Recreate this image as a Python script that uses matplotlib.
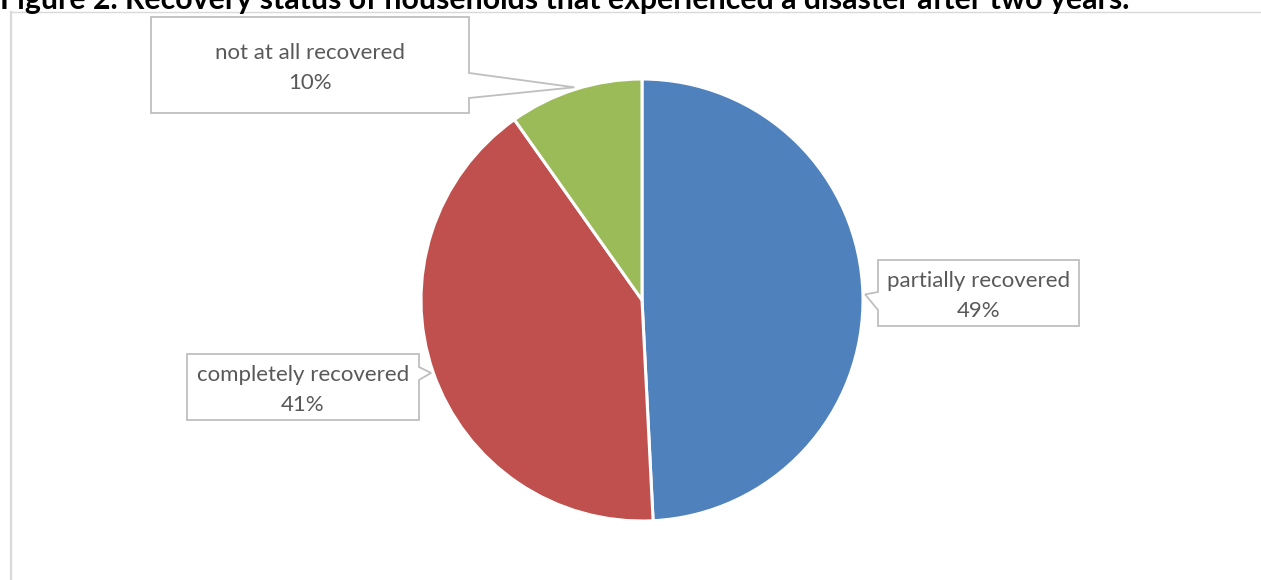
import matplotlib
matplotlib.use("Agg")
import matplotlib.pyplot as plt
from matplotlib.patches import Polygon
from matplotlib.lines import Line2D
import numpy as np

categories = ["partially recovered", "completely recovered", "not at all recovered"]
shares = [49.2, 41.0, 9.8]
shown_pct = [49, 41, 10]
colors = ["#4F81BD", "#C0504D", "#9BBB59"]
title = "Figure 2. Recovery status of households that experienced a disaster after two years."

W, H = 1261, 580
fig = plt.figure(figsize=(W / 100, H / 100), dpi=100)
fig.patch.set_facecolor("white")

CX, CY, R = 642, 300, 221
ax = fig.add_axes([0, 0, 1, 1])
wedges, _ = ax.pie(shares, colors=colors, startangle=90, counterclock=False,
                   radius=1, wedgeprops=dict(edgecolor="white", linewidth=2.2))
ax.set_aspect("auto")
ax.set_xlim(-CX / R, (W - CX) / R)
ax.set_ylim(-(H - CY) / R, CY / R)
ax.axis("off")


def P(px, py):
    return ((px - CX) / R, (CY - py) / R)


# chart-area frame
fig.add_artist(Line2D([10.5 / W, 10.5 / W], [0, 1 - 12 / H], transform=fig.transFigure,
                      color="#D9D9D9", lw=1.6))
fig.add_artist(Line2D([10.5 / W, 1.0], [1 - 12 / H, 1 - 12 / H], transform=fig.transFigure,
                      color="#D9D9D9", lw=1.0))

# callout boxes (pixel layout: x0, y0, x1, y1, pointer side, base0, base1)
boxes = {
    "partially recovered": (878, 260, 1079, 326, "left", 292, 310),
    "completely recovered": (187, 354, 419, 420, "right", 367, 380),
    "not at all recovered": (151, 17, 469, 113, "right", 73, 98),
}

for w, cat, pct in zip(wedges, categories, shown_pct):
    mid = np.deg2rad((w.theta1 + w.theta2) / 2)
    tip = (1.01 * np.cos(mid), 1.01 * np.sin(mid))
    x0, y0, x1, y1, side, b0, b1 = boxes[cat]
    if side == "right":
        verts = [P(x0, y0), P(x1, y0), P(x1, b0), tip, P(x1, b1), P(x1, y1), P(x0, y1)]
    else:
        verts = [P(x0, y0), P(x1, y0), P(x1, y1), P(x0, y1), P(x0, b1), tip, P(x0, b0)]
    ax.add_patch(Polygon(verts, closed=True, facecolor="white", edgecolor="#BFBFBF",
                         lw=1.3, zorder=3, joinstyle="miter"))
    cx, cy = P((x0 + x1) / 2, (y0 + y1) / 2)
    ax.text(cx, cy - 3 / R, f"{cat}\n{pct}%", ha="center", va="center", color="#595959",
            fontsize=16, family=["Lato", "DejaVu Sans"], linespacing=1.62, zorder=4)

t = fig.text(0.0, 1 - 9 / H, title, ha="left", va="baseline", fontweight="bold",
             family=["Lato", "DejaVu Sans"], fontsize=15, color="black")
fig.canvas.draw()
bb = t.get_window_extent(fig.canvas.get_renderer())
t.set_fontsize(15 * 1130 / bb.width)

fig.savefig("out.png", dpi=100, facecolor="white")
